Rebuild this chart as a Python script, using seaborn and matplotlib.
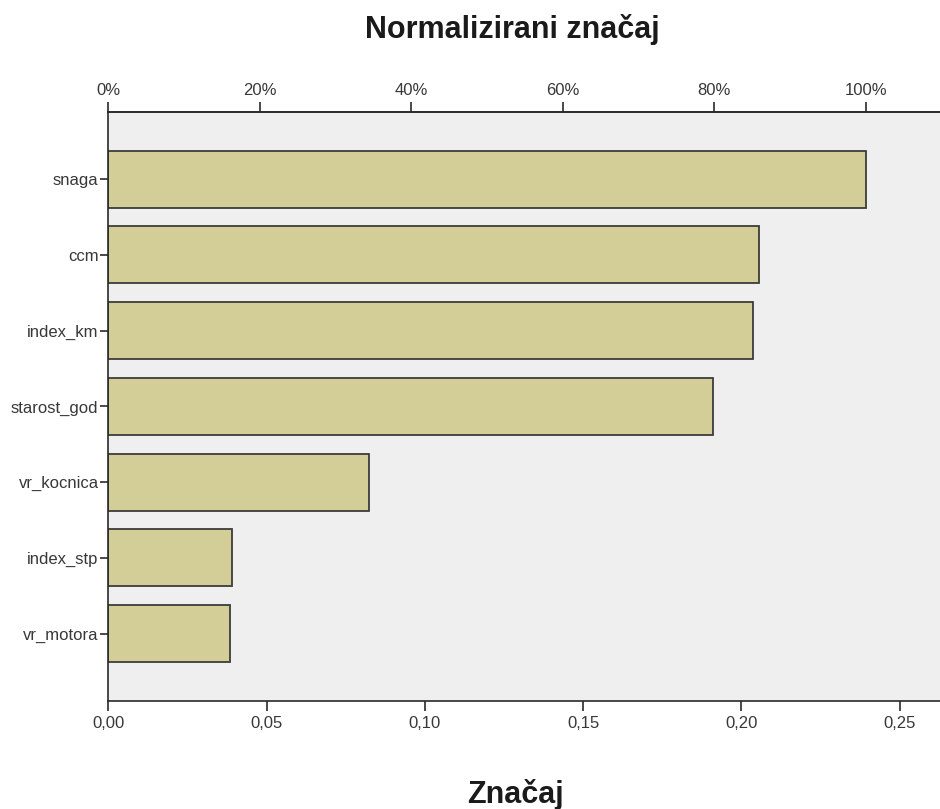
import matplotlib
matplotlib.use("Agg")
import matplotlib.pyplot as plt
import pandas as pd
import seaborn as sns
from matplotlib.ticker import FuncFormatter

# predictor importance values
predictors = ["snaga", "ccm", "index_km", "starost_god", "vr_kocnica", "index_stp", "vr_motora"]
importance = [0.2393, 0.2054, 0.2037, 0.1909, 0.0823, 0.0392, 0.0384]
bottom_ticks = [0.00, 0.05, 0.10, 0.15, 0.20, 0.25]
top_ticks = [0, 20, 40, 60, 80, 100]

sns.set_style("white")
plt.rcParams["font.family"] = ["Liberation Sans", "DejaVu Sans"]

df = pd.DataFrame({"predictor": predictors, "importance": importance})
max_imp = max(importance)

fig = plt.figure(figsize=(9.4, 8.09), dpi=100)
ax = fig.add_axes([0.1152, 0.1335, 0.8848, 0.7284])
ax.set_facecolor("#efefef")

sns.barplot(data=df, x="importance", y="predictor", orient="h", order=predictors,
            color="#d3ce97", saturation=1, edgecolor="#3c3c3a", linewidth=1.3,
            width=0.75, ax=ax)

ax.set_xlim(0, 0.2627)
ax.set_ylim(len(predictors) - 1 + 0.89, -0.89)
ax.set_xticks(bottom_ticks)
ax.xaxis.set_major_formatter(FuncFormatter(lambda v, p: f"{v:.2f}".replace(".", ",")))
ax.set_xlabel("")
ax.set_ylabel("")

ax.spines["right"].set_visible(False)
for side in ["left", "bottom", "top"]:
    ax.spines[side].set_color("#2a2a2a")
    ax.spines[side].set_linewidth(1.2)

ax.tick_params(axis="x", which="major", direction="out", length=7, width=1.2,
               color="#2a2a2a", labelsize=12, labelcolor="#383838", pad=4, bottom=True)
ax.tick_params(axis="y", which="major", direction="out", length=6, width=1.2,
               color="#2a2a2a", labelsize=12, labelcolor="#383838", pad=1, left=True)

# normalized importance on the top axis
sec = ax.secondary_xaxis("top", functions=(lambda x: x / max_imp * 100,
                                           lambda p: p * max_imp / 100))
sec.set_xticks(top_ticks)
sec.xaxis.set_major_formatter(FuncFormatter(lambda v, p: f"{v:.0f}%"))
sec.tick_params(direction="out", length=7, width=1.2, color="#2a2a2a",
                labelsize=12, labelcolor="#383838", pad=3)
sec.spines["top"].set_color("#2a2a2a")
sec.spines["top"].set_linewidth(1.2)

fig.text(0.545, 0.963, "Normalizirani značaj", ha="center", va="center",
         fontsize=22, fontweight="bold", color="#1a1a1a")
fig.text(0.548, 0.018, "Značaj", ha="center", va="center",
         fontsize=22, fontweight="bold", color="#1a1a1a")

fig.savefig("out.png", dpi=100)
